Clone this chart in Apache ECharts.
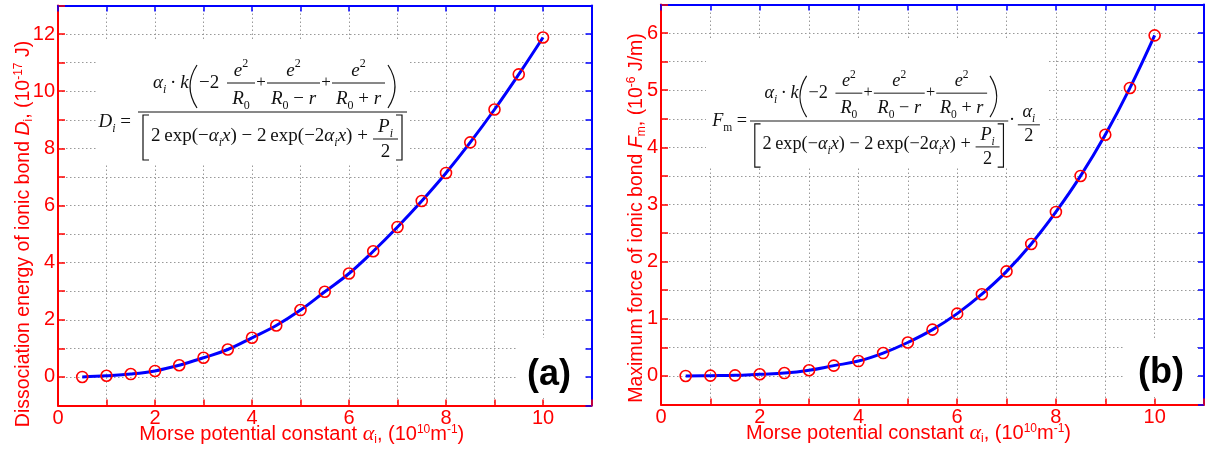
<!DOCTYPE html>
<html>
<head>
<meta charset="utf-8">
<script src="https://cdn.jsdelivr.net/npm/echarts@6/dist/echarts.min.js"></script>
<style>
  html, body { margin: 0; padding: 0; background: #fff; }
  #chart { width: 1205px; height: 452px; }
</style>
</head>
<body>
<div id="chart"></div>
<script>
// Morse potential constant alpha_i (10^10 m^-1)
const alpha = [0.5, 1, 1.5, 2, 2.5, 3, 3.5, 4, 4.5, 5, 5.5, 6, 6.5, 7, 7.5, 8, 8.5, 9, 9.5, 10];
// (a) dissociation energy of ionic bond D_i (10^-17 J)
const energyD = [0, 0.04, 0.1, 0.21, 0.41, 0.67, 0.96, 1.37, 1.8, 2.34, 2.98, 3.62, 4.4, 5.25, 6.16, 7.14, 8.21, 9.36, 10.59, 11.88];
// (b) maximum force of ionic bond F_m (10^-6 J/m)
const forceF = [0, 0.005, 0.01, 0.03, 0.05, 0.1, 0.18, 0.26, 0.4, 0.585, 0.81, 1.09, 1.43, 1.83, 2.31, 2.87, 3.5, 4.22, 5.04, 5.96];

const RED = '#ff0000';
const BLUE = '#0000ff';
const SANS = '"Liberation Sans", Arial, sans-serif';
const SERIF = '"Liberation Serif", "Times New Roman", serif';

function nameRich(fs) {
  return {
    t: { color: RED, fontFamily: SANS, fontSize: fs, lineHeight: 22 },
    it: { color: RED, fontFamily: SANS, fontStyle: 'italic', fontSize: fs, lineHeight: 22 },
    ga: { color: RED, fontFamily: SERIF, fontStyle: 'italic', fontSize: fs + 2, lineHeight: 22 },
    sub: { color: RED, fontFamily: SANS, fontSize: 12, lineHeight: 8, verticalAlign: 'bottom' },
    sup: { color: RED, fontFamily: SANS, fontSize: 12, lineHeight: 8, verticalAlign: 'top' }
  };
}

function bottomX(gi, padRight) {
  return {
    gridIndex: gi, type: 'value', position: 'bottom', min: 0, max: 11, interval: 1,
    axisLine: { onZero: false, lineStyle: { color: RED, width: 2 } },
    axisTick: { inside: true, length: 6, lineStyle: { color: RED, width: 1.5 } },
    axisLabel: { color: RED, fontFamily: SANS, fontSize: 20, margin: 3,
      formatter: v => (v % 2 === 0 ? String(v) : '') },
    splitLine: { show: true, lineStyle: { color: '#999', width: 1, type: [1.5, 2.5] } },
    name: '{t|Morse potential constant }{ga|α}{sub|i}{t|, (10}{sup|10}{t|m}{sup|-1}{t|)}',
    nameLocation: 'middle', nameGap: 18, nameMoveOverlap: false,
    nameTextStyle: { color: RED, fontSize: 20, lineHeight: 22, padding: [0, padRight, 0, 0], rich: nameRich(20) }
  };
}
function topX(gi) {
  return {
    gridIndex: gi, type: 'value', position: 'top', min: 0, max: 11, interval: 1,
    axisLine: { onZero: false, lineStyle: { color: BLUE, width: 2 } },
    axisTick: { inside: true, length: 6, lineStyle: { color: BLUE, width: 1.5 } },
    axisLabel: { show: false }, splitLine: { show: false }
  };
}
function leftY(gi, min, max, step, fmt, name, gap, pad) {
  return {
    gridIndex: gi, type: 'value', position: 'left', min: min, max: max, interval: step,
    axisLine: { onZero: false, lineStyle: { color: RED, width: 2 } },
    axisTick: { inside: true, length: 7, lineStyle: { color: RED, width: 1.5 } },
    axisLabel: { color: RED, fontFamily: SANS, fontSize: 20, margin: 3, formatter: fmt },
    splitLine: { show: true, lineStyle: { color: '#999', width: 1, type: [1.5, 2.5] } },
    name: name, nameLocation: 'middle', nameGap: gap, nameMoveOverlap: false,
    nameTextStyle: { color: RED, fontSize: 19.5, lineHeight: 22, padding: [0, pad, 0, 0], rich: nameRich(19.5) }
  };
}
function rightY(gi, min, max, step) {
  return {
    gridIndex: gi, type: 'value', position: 'right', min: min, max: max, interval: step,
    axisLine: { onZero: false, lineStyle: { color: BLUE, width: 2 } },
    axisTick: { inside: true, length: 6, lineStyle: { color: BLUE, width: 1.5 } },
    axisLabel: { show: false }, splitLine: { show: false }
  };
}

// ---- formula pieces (graphic text laid out with measured widths) ----
const ctx = document.createElement('canvas').getContext('2d');
const KIND = {
  n: { size: 19, it: false, dy: 0 },
  i: { size: 19, it: true, dy: 0 },
  s: { size: 17, it: false, dy: 0 },
  b: { size: 12, it: false, dy: 5 },
  bi: { size: 12, it: true, dy: 5 },
  p: { size: 12, it: false, dy: -9 }
};
function font(k) { return (k.it ? 'italic ' : '') + k.size + 'px ' + SERIF; }
function run(pieces, x, base, align) {
  const ws = pieces.map(([s, k]) => { ctx.font = font(KIND[k]); return ctx.measureText(s).width; });
  const total = ws.reduce((a, b) => a + b, 0);
  let cx = align === 'center' ? x - total / 2 : align === 'right' ? x - total : x;
  return pieces.map(([s, k], j) => {
    const kk = KIND[k];
    const el = {
      type: 'text', z: 5, x: cx, y: base + kk.dy - 0.32 * kk.size,
      style: { text: s, font: font(kk), fill: '#111', align: 'left', verticalAlign: 'middle',
        textAlign: 'left', textVerticalAlign: 'middle' }
    };
    cx += ws[j];
    return el;
  });
}
function hline(x0, x1, y) {
  return { type: 'line', z: 5, shape: { x1: x0, y1: y, x2: x1, y2: y }, style: { stroke: '#111', lineWidth: 1 } };
}
function paren(x, y0, y1, dir) {
  return { type: 'bezierCurve', z: 5, shape: { x1: x, y1: y0, x2: x, y2: y1, cpx1: x + dir * 14, cpy1: (y0 + y1) / 2 },
    style: { stroke: '#111', lineWidth: 1.2, fill: 'none' } };
}
function bracket(xs, xv, y0, y1) {
  return { type: 'polyline', z: 5, shape: { points: [[xs, y0], [xv, y0], [xv, y1], [xs, y1]] },
    style: { stroke: '#111', lineWidth: 1.2, fill: 'none' } };
}
function frac(num, den, x0, x1) {
  const c = (x0 + x1) / 2;
  return [hline(x0, x1, -29), ...run(num, c, -35, 'center'), ...run(den, c, -7, 'center')];
}
const TH = '\u2009';
function formulaBody() {
  const e2 = [['e', 'i'], ['2', 'p']];
  return [
    hline(0, 269, 0),
    ...run([['α', 'i'], ['i', 'bi'], [TH + '·' + TH, 'n'], ['k', 'i']], 15, -23, 'left'),
    paren(59, -47, -4, -1),
    ...run([['−2', 'n']], 61, -23, 'left'),
    ...frac(e2, [['R', 'i'], ['0', 'b']], 89, 117),
    ...run([['+', 's']], 123, -24, 'center'),
    ...frac(e2, [['R', 'i'], ['0', 'b'], [' − ', 'n'], ['r', 'i']], 129, 182),
    ...run([['+', 's']], 188, -24, 'center'),
    ...frac(e2, [['R', 'i'], ['0', 'b'], [' + ', 'n'], ['r', 'i']], 194, 247),
    paren(250, -47, -4, 1),
    bracket(11, 5, 3, 48),
    ...run([['2' + TH + 'exp(−', 'n'], ['α', 'i'], ['i', 'bi'], ['x', 'i'], [') − 2' + TH + 'exp(−2', 'n'],
      ['α', 'i'], ['i', 'bi'], ['x', 'i'], [') +', 'n']], 13, 30, 'left'),
    hline(235, 260, 27),
    ...run([['P', 'i'], ['i', 'bi']], 247.5, 21, 'center'),
    ...run([['2', 'n']], 247.5, 46, 'center'),
    bracket(258, 264, 3, 48)
  ];
}

const formulaA = {
  type: 'group', x: 138, y: 112,
  children: [...formulaBody(), ...run([['D', 'i'], ['i', 'bi'], [' =', 'n']], -7, 16, 'right')]
};
const formulaB = {
  type: 'group', x: 750, y: 121, scaleX: 0.96, scaleY: 0.96,
  children: [...formulaBody(), ...run([['F', 'i'], ['m', 'b'], [' =', 'n']], -3, 6, 'right'),
    ...run([['·', 'n']], 273, 5, 'center'),
    ...run([['α', 'i'], ['i', 'bi']], 290.5, -3, 'center'),
    hline(279, 302, 4),
    ...run([['2', 'n']], 290.5, 22, 'center')]
};

function whiteBox(x, y, w, h) {
  return { type: 'rect', z: 1, shape: { x: x, y: y, width: w, height: h }, style: { fill: '#fff' }, silent: true };
}
function panelTag(text, x, y) {
  return { type: 'text', z: 5, x: x, y: y,
    style: { text: text, font: 'bold 36px ' + SANS, fill: '#000', align: 'center', verticalAlign: 'middle',
      textAlign: 'center', textVerticalAlign: 'middle' } };
}

const myChart = echarts.init(document.getElementById('chart'), null, { renderer: 'canvas' });
myChart.setOption({
  animation: false,
  backgroundColor: '#fff',
  grid: [
    { left: 58, top: 5.5, width: 533.5, height: 400, outerBoundsMode: 'none', containLabel: false },
    { left: 661, top: 4.5, width: 543, height: 400, outerBoundsMode: 'none', containLabel: false }
  ],
  xAxis: [bottomX(0, 46), topX(0), bottomX(1, 48), topX(1)],
  yAxis: [
    leftY(0, -1, 13, 1, v => (v % 2 === 0 ? String(v) : ''),
      '{t|Dissociation energy of ionic bond }{it|D}{sub|i}{t|, (10}{sup|-17}{t| J)}', 23.5, 57),
    rightY(0, -1, 13, 1),
    leftY(1, -0.5, 6.5, 0.5, v => (Number.isInteger(v) ? String(v) : ''),
      '{t|Maximum force of ionic bond }{it|F}{sub|m}{t|, (10}{sup|-6}{t| J/m)}', 13, 27),
    rightY(1, -0.5, 6.5, 0.5)
  ],
  series: [
    { type: 'line', xAxisIndex: 0, yAxisIndex: 0, data: alpha.map((x, i) => [x, energyD[i]]),
      smooth: 0.4, showSymbol: false, lineStyle: { color: BLUE, width: 3 }, z: 3, silent: true },
    { type: 'scatter', xAxisIndex: 0, yAxisIndex: 0, data: alpha.map((x, i) => [x, energyD[i]]),
      symbol: 'circle', symbolSize: 11, itemStyle: { color: 'transparent', borderColor: RED, borderWidth: 1.6, opacity: 1 }, z: 4, silent: true },
    { type: 'line', xAxisIndex: 2, yAxisIndex: 2, data: alpha.map((x, i) => [x, forceF[i]]),
      smooth: 0.4, showSymbol: false, lineStyle: { color: BLUE, width: 3 }, z: 3, silent: true },
    { type: 'scatter', xAxisIndex: 2, yAxisIndex: 2, data: alpha.map((x, i) => [x, forceF[i]]),
      symbol: 'circle', symbolSize: 11, itemStyle: { color: 'transparent', borderColor: RED, borderWidth: 1.6, opacity: 1 }, z: 4, silent: true }
  ],
  graphic: {
    elements: [
      whiteBox(97, 40, 313, 125),
      whiteBox(706, 40, 341, 128),
      whiteBox(517, 338, 67, 60),
      whiteBox(1125, 340, 71, 57),
      formulaA,
      formulaB,
      panelTag('(a)', 549, 375),
      panelTag('(b)', 1161, 373)
    ]
  }
});
</script>
</body>
</html>
